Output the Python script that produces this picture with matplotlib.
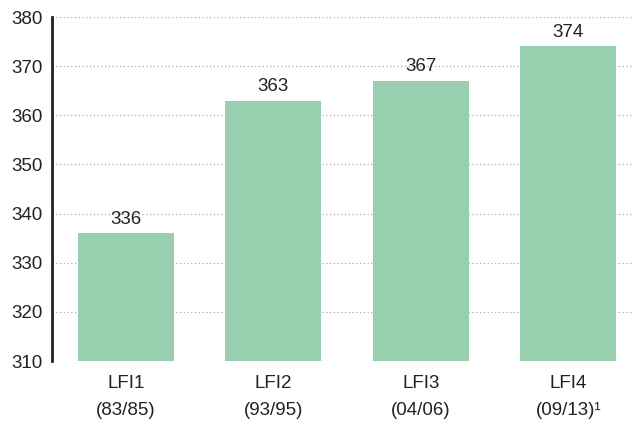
import numpy as np
import matplotlib.pyplot as plt

plt.rcParams['font.family'] = ['Liberation Sans', 'DejaVu Sans']

# data
categories = ['LFI1\n(83/85)', 'LFI2\n(93/95)', 'LFI3\n(04/06)', 'LFI4\n(09/13)\u00b9']
values = [336, 363, 367, 374]
yticks = [310, 320, 330, 340, 350, 360, 370, 380]

fig = plt.figure(figsize=(6.35, 4.21), dpi=100)
ax = fig.add_axes([0.082, 0.1425, 0.913, 0.8171])

x = np.arange(len(values))
ax.bar(x, values, width=0.65, color='#98cfaf', zorder=2)

for xi, v in zip(x, values):
    ax.text(xi, v + 1.1, str(v), ha='center', va='bottom', fontsize=13.5, color='#222222')

ax.set_ylim(310, 380)
ax.set_xlim(-0.5, 3.43)
ax.set_yticks(yticks)
ax.set_xticks(x)
ax.set_xticklabels(categories, fontsize=13.5, color='#222222', linespacing=1.75)
ax.tick_params(axis='y', labelsize=13.5, colors='#222222', length=0, pad=7)
ax.tick_params(axis='x', length=0, pad=10)

ax.grid(axis='y', linestyle=(0, (1, 2)), color='#aaaaaa', linewidth=0.9, zorder=1)
for s in ['top', 'right', 'bottom']:
    ax.spines[s].set_visible(False)
ax.spines['left'].set_linewidth(2)
ax.spines['left'].set_color('#222222')

plt.savefig('out.png', dpi=100)
